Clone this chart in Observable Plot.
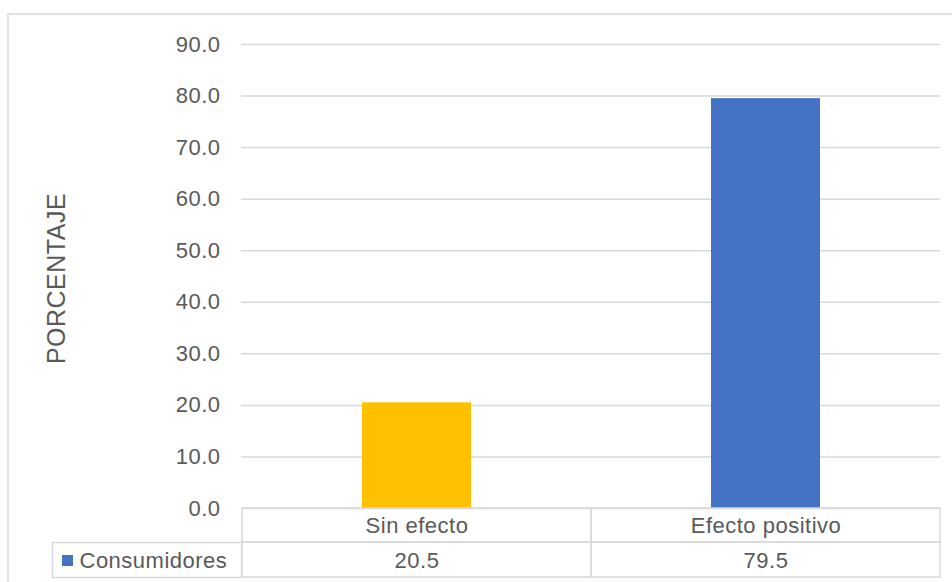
<!DOCTYPE html>
<html>
<head>
<meta charset="utf-8">
<script src="https://cdn.jsdelivr.net/npm/d3@7"></script>
<script src="https://cdn.jsdelivr.net/npm/@observablehq/plot@0.6"></script>
<style>
  html, body { margin: 0; padding: 0; background: #fff; }
  #chart svg { display: block; }
</style>
</head>
<body>
<div id="chart"></div>
<script>
// ---- Data ----
const categories = ["Sin efecto", "Efecto positivo"];
const consumidores = [20.5, 79.5];
const seriesName = "Consumidores";
const yTickValues = [0, 10, 20, 30, 40, 50, 60, 70, 80, 90];
const yAxisTitle = "PORCENTAJE";
const barColors = ["#FFC000", "#4472C4"];
const legendColor = "#4472C4";

// ---- Layout ----
const W = 952, H = 582;
const mL = 241, mR = 12, mT = 44, mB = 74;
const frameW = W - mL - mR;
const frameH = H - mT - mB;
const row1 = 34, row2 = 69;        // table row bottoms below the frame
const tableLeft = 52;               // left edge of the legend cell
const grid = "#D9D9D9";
const textColor = "#595959";

const data = categories.map((c, i) => ({category: c, value: consumidores[i]}));

const chart = Plot.plot({
  width: W,
  height: H,
  marginLeft: mL,
  marginRight: mR,
  marginTop: mT,
  marginBottom: mB,
  style: {
    fontFamily: "'Liberation Sans', Arial, sans-serif",
    fontSize: "22px",
    color: textColor,
    letterSpacing: "0.5px",
    background: "#fff"
  },
  x: {domain: categories, padding: 0, axis: null},
  y: {domain: [0, 90], axis: null},
  color: {domain: categories, range: barColors},
  marks: [
    // outer chart border
    Plot.frame({stroke: grid, strokeWidth: 1.5,
      insetLeft: -(mL - 7.5), insetTop: -(mT - 13.5), insetRight: -(mR + 20), insetBottom: -(mB + 20)}),
    // gridlines
    Plot.gridY(yTickValues, {stroke: grid, strokeOpacity: 1, strokeWidth: 1.5}),
    // bars
    Plot.barY(data, {x: "category", y: "value", fill: "category", insetLeft: 120, insetRight: 120}),
    // y axis
    Plot.axisY(yTickValues, {tickSize: 0, tickPadding: 21, tickFormat: d => d.toFixed(1), label: null, fill: textColor}),
    // y axis title
    Plot.text([yAxisTitle], {text: d => d, frameAnchor: "left", textAnchor: "middle", lineAnchor: "middle",
      rotate: -90, dx: -(mL - 56), dy: 2, fontSize: 25, fill: textColor}),
    // data table: category row
    Plot.cell(categories, {x: d => d, fill: "none", stroke: grid, strokeWidth: 1.5, insetTop: frameH, insetBottom: -row1}),
    // data table: value row
    Plot.cell(categories, {x: d => d, fill: "none", stroke: grid, strokeWidth: 1.5, insetTop: frameH + row1, insetBottom: -row2}),
    // legend cell
    Plot.frame({stroke: grid, strokeWidth: 1.5, insetLeft: -(mL - tableLeft), insetRight: frameW, insetTop: frameH + row1, insetBottom: -row2}),
    // category labels
    Plot.text(categories, {x: d => d, text: d => d, frameAnchor: "bottom", lineAnchor: "middle", dy: 17, fill: textColor}),
    // values
    Plot.text(data, {x: "category", text: d => d.value.toFixed(1), frameAnchor: "bottom", lineAnchor: "middle", dy: 52, fill: textColor}),
    // legend key + series name
    Plot.dot([seriesName], {frameAnchor: "bottom-left", dx: -(mL - 67), dy: 52, symbol: "square", r: 6.2, fill: legendColor, stroke: null}),
    Plot.text([seriesName], {text: d => d, frameAnchor: "bottom-left", textAnchor: "start", lineAnchor: "middle", dx: -(mL - 79), dy: 52, fill: textColor})
  ]
});
document.getElementById("chart").appendChild(chart);
</script>
</body>
</html>
